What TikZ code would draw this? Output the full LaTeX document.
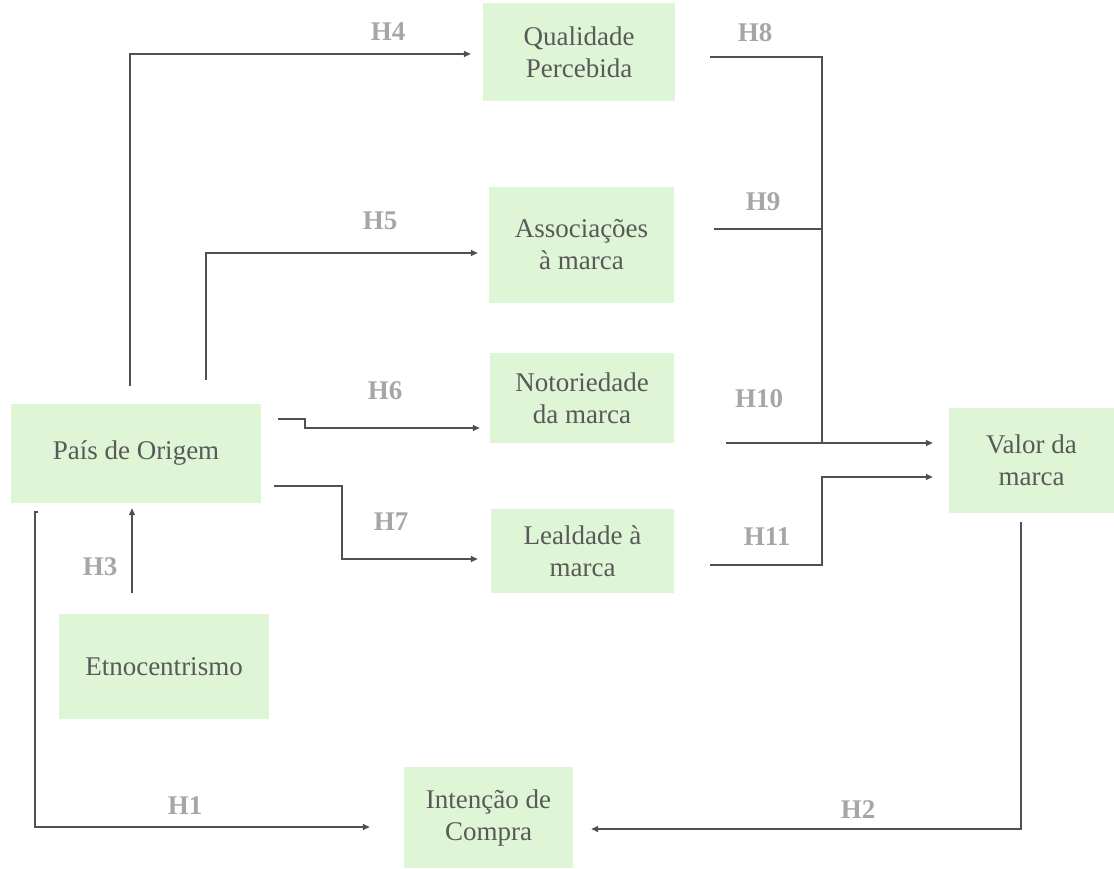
\documentclass[tikz,border=0pt]{standalone}
\usepackage{fontspec}
\setmainfont{Liberation Serif}
\usetikzlibrary{arrows.meta}
\definecolor{boxgreen}{RGB}{222,245,214}
\definecolor{txtgray}{RGB}{89,89,89}
\definecolor{hgray}{RGB}{166,166,166}
\definecolor{linegray}{RGB}{80,80,80}

\begin{document}
\begin{tikzpicture}[x=1pt,y=-1pt,
  box/.style={fill=boxgreen,text=txtgray,align=center,inner sep=0pt,font=\fontsize{27}{32}\selectfont},
  hyp/.style={text=hgray,inner sep=0pt,font=\fontsize{27}{32}\selectfont\bfseries},
  conn/.style={draw=linegray,line width=1.5pt},
  arr/.style={conn,-{Triangle[length=7pt,width=6pt]}}]
  \useasboundingbox (0,0) rectangle (1114,868);

  % constructs
  \node[box,minimum width=192pt,minimum height=98pt] (qual) at (579,52) {Qualidade\\Percebida};
  \node[box,minimum width=185pt,minimum height=116pt] (assoc) at (581.5,245) {Associações\\à marca};
  \node[box,minimum width=184pt,minimum height=90pt] (noto) at (582,398) {Notoriedade\\da marca};
  \node[box,minimum width=183pt,minimum height=84pt] (leal) at (582.5,551) {Lealdade à\\marca};
  \node[box,minimum width=250pt,minimum height=99pt] (pais) at (136,453.5) {País de Origem};
  \node[box,minimum width=210pt,minimum height=105pt] (etno) at (164,666.5) {Etnocentrismo};
  \node[box,minimum width=165pt,minimum height=105pt] (valor) at (1031.5,460.5) {Valor da\\marca};
  \node[box,minimum width=169pt,minimum height=101pt] (intencao) at (488.5,817.5) {Intenção de\\Compra};

  % hypotheses
  \node[hyp] (h1) at (185,806) {H1};
  \node[hyp] (h2) at (858,810) {H2};
  \node[hyp] (h3) at (100,567) {H3};
  \node[hyp] (h4) at (388,32) {H4};
  \node[hyp] (h5) at (380,221) {H5};
  \node[hyp] (h6) at (385,391) {H6};
  \node[hyp] (h7) at (391,522) {H7};
  \node[hyp] (h8) at (755,33) {H8};
  \node[hyp] (h9) at (763,202) {H9};
  \node[hyp] (h10) at (759,399) {H10};
  \node[hyp] (h11) at (767,537) {H11};

  % pais de origem -> dimensoes
  \draw[arr,shorten >=12pt] ([xshift=-6pt,yshift=18pt]pais.north) |- ([yshift=-2pt]qual.west);
  \draw[arr,shorten >=11pt] ([xshift=70pt,yshift=24pt]pais.north) |- ([yshift=-8pt]assoc.west);
  \draw[arr,shorten >=10pt] ([xshift=17pt,yshift=34.5pt]pais.east) -- ++(27,0) |- ([yshift=-30pt]noto.west);
  \draw[arr,shorten >=13pt] ([xshift=13pt,yshift=-32.5pt]pais.east) -- ++(68,0) |- ([yshift=-8pt]leal.west);
  \draw[arr] ([xshift=-32pt,yshift=21pt]etno.north) -- ([xshift=-4pt,yshift=-5pt]pais.south);
  \draw[arr,shorten >=34pt] ([xshift=27pt,yshift=-9pt]pais.south west) -- ++(-3,0) |- ([yshift=-9.5pt]intencao.west);

  % dimensoes -> valor da marca
  \coordinate (jun) at (822,443);
  \coordinate (s9) at ([xshift=40pt,yshift=16pt]assoc.east);
  \coordinate (s11) at ([xshift=36pt,yshift=-14pt]leal.east);
  \draw[conn] ([xshift=35pt,yshift=-5pt]qual.east) -| (jun);
  \draw[conn] (s9) -- (s9 -| jun);
  \draw[conn] ([xshift=52pt,yshift=-45pt]noto.east) -- (jun);
  \draw[arr,shorten >=16pt] (jun) -- ([yshift=17.5pt]valor.west);
  \draw[arr,shorten >=16pt] (s11) -- (s11 -| jun) |- ([yshift=-16.5pt]valor.west);
  \draw[arr,shorten >=18pt] ([xshift=-10.5pt,yshift=-9pt]valor.south) |- ([yshift=-11.5pt]intencao.east);
\end{tikzpicture}
\end{document}
